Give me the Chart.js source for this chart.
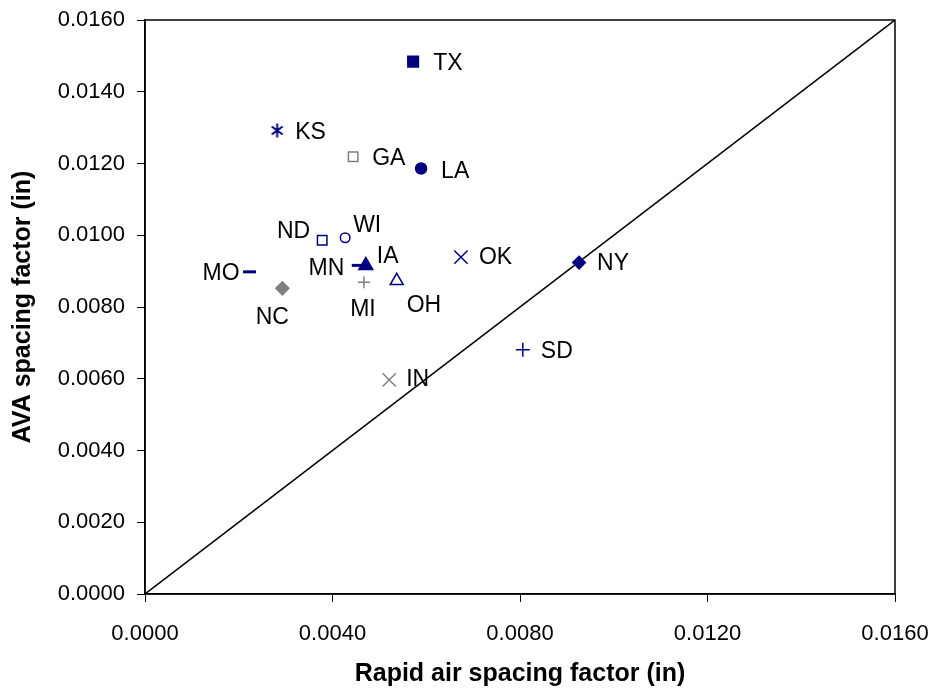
<!DOCTYPE html>
<html>
<head>
<meta charset="utf-8">
<title>AVA vs Rapid air spacing factor</title>
<script src="https://cdn.jsdelivr.net/npm/chart.js@4.4.1/dist/chart.umd.min.js"></script>
<style>
  html, body { margin: 0; padding: 0; background: #fff; }
  #wrap { width: 940px; height: 694px; }
</style>
</head>
<body>
<div id="wrap"><canvas id="spacingChart" width="940" height="694"></canvas></div>
<script>
// spacing factors per state (in)
const states = ['TX', 'KS', 'GA', 'LA', 'ND', 'WI', 'MO', 'MN', 'IA', 'MI', 'OH', 'NC', 'OK', 'NY', 'SD', 'IN'];
const rapidAir = [0.00572, 0.00282, 0.00444, 0.00589, 0.00378, 0.00427, 0.00223, 0.00455,
                  0.00471, 0.00467, 0.00537, 0.00293, 0.00674, 0.00926, 0.00806, 0.00521];
const avaSpacing = [0.01484, 0.01292, 0.01219, 0.01186, 0.00986, 0.00993, 0.00898, 0.00916,
                    0.00916, 0.00869, 0.00873, 0.00852, 0.00939, 0.00924, 0.00681, 0.00597];

// line of equality
const equalityLine = [0, 0.016];

const xTicks = { min: 0, max: 0.016, step: 0.004 };
const yTicks = { min: 0, max: 0.016, step: 0.002 };

const NAVY = '#000080';
const GRAY = '#808080';
const FONT = "'Liberation Sans', Arial, sans-serif";

// star marker: vertical stroke plus an X
function makeStar(color) {
  const c = document.createElement('canvas');
  c.width = 15; c.height = 15;
  const g = c.getContext('2d');
  g.strokeStyle = color;
  g.lineWidth = 2;
  g.beginPath();
  g.moveTo(7.5, 0.5); g.lineTo(7.5, 14.5);
  g.moveTo(2, 3.5); g.lineTo(13, 11.5);
  g.moveTo(13, 3.5); g.lineTo(2, 11.5);
  g.stroke();
  return c;
}

// marker look for each state
const markers = {
  TX: { style: 'rect', r: 7.5, color: NAVY, fill: true },
  KS: { style: makeStar(NAVY), r: 7, color: NAVY, fill: true },
  GA: { style: 'rect', r: 6.7, color: GRAY, fill: false },
  LA: { style: 'circle', r: 5.5, color: NAVY, fill: true },
  ND: { style: 'rect', r: 6.7, color: NAVY, fill: false },
  WI: { style: 'circle', r: 4.8, color: NAVY, fill: false },
  MO: { style: 'line', r: 6.5, color: NAVY, fill: true, width: 3 },
  MN: { style: 'line', r: 6.5, color: NAVY, fill: true, width: 3 },
  IA: { style: 'triangle', r: 8, color: NAVY, fill: true },
  MI: { style: 'cross', r: 6, color: GRAY, fill: true },
  OH: { style: 'triangle', r: 7.5, color: NAVY, fill: false },
  NC: { style: 'rectRot', r: 6.5, color: GRAY, fill: true },
  OK: { style: 'crossRot', r: 9.4, color: NAVY, fill: true },
  NY: { style: 'rectRot', r: 6.3, color: NAVY, fill: true },
  SD: { style: 'cross', r: 7, color: NAVY, fill: true },
  IN: { style: 'crossRot', r: 9.4, color: GRAY, fill: true }
};

// where each state name sits relative to its marker: [dx, dy, align]
const labelPlacement = {
  TX: [20, 0, 'left'], KS: [18, 0, 'left'], GA: [19, 0, 'left'], LA: [20, 1, 'left'],
  ND: [-12, -10, 'right'], WI: [8, -14, 'left'], MO: [-10, 0, 'right'], MN: [-14, 1, 'right'],
  IA: [11, -11, 'left'], MI: [-1, 26, 'center'], OH: [10, 23, 'left'], NC: [-10, 27, 'center'],
  OK: [18, -1, 'left'], NY: [18, -1, 'left'], SD: [18, 0, 'left'], IN: [17, -2, 'left']
};

const stateSets = states.map((st, i) => {
  const m = markers[st];
  const open = !m.fill;
  return {
    label: st,
    data: [{ x: rapidAir[i], y: avaSpacing[i] }],
    pointStyle: m.style,
    pointRadius: m.r,
    pointHoverRadius: m.r,
    pointBorderColor: m.color,
    pointBackgroundColor: open ? '#fff' : m.color,
    pointBorderWidth: m.width || 1.5,
    showLine: false
  };
});

const lineSet = {
  type: 'line',
  label: 'equality',
  data: equalityLine.map(v => ({ x: v, y: v })),
  borderColor: '#000',
  borderWidth: 1.5,
  pointRadius: 0,
  fill: false,
  order: 1
};

// frame round the plot area
const plotFrame = {
  id: 'plotFrame',
  beforeDatasetsDraw(chart) {
    const { ctx, chartArea: a } = chart;
    ctx.save();
    ctx.strokeStyle = '#000';
    ctx.lineWidth = 1.5;
    ctx.strokeRect(a.left, a.top, a.right - a.left, a.bottom - a.top);
    ctx.restore();
  }
};

// state names beside the markers
const stateLabels = {
  id: 'stateLabels',
  afterDatasetsDraw(chart) {
    const ctx = chart.ctx;
    ctx.save();
    ctx.font = '23px ' + FONT;
    ctx.fillStyle = '#000';
    ctx.textBaseline = 'alphabetic';
    chart.data.datasets.forEach((ds, i) => {
      const place = labelPlacement[ds.label];
      if (!place) return;
      const pt = chart.getDatasetMeta(i).data[0];
      ctx.textAlign = place[2];
      ctx.fillText(ds.label, pt.x + place[0], pt.y + place[1] + 8.2);
    });
    ctx.restore();
  }
};

const tickFont = { family: FONT, size: 22 };
const titleFont = { family: FONT, size: 25, weight: 'bold' };

new Chart(document.getElementById('spacingChart'), {
  type: 'scatter',
  data: { datasets: [...stateSets, lineSet] },
  options: {
    responsive: false,
    animation: false,
    layout: { padding: { top: 20, right: 45, left: 0, bottom: 0 } },
    plugins: { legend: { display: false }, tooltip: { enabled: false } },
    scales: {
      x: {
        type: 'linear',
        min: xTicks.min,
        max: xTicks.max,
        afterFit: s => {
          s.height = 100;
          s.paddingLeft = 0;
          s.paddingRight = 0;
        },
        ticks: {
          stepSize: xTicks.step,
          maxRotation: 0,
          padding: 19,
          color: '#000',
          font: tickFont,
          callback: v => v.toFixed(4)
        },
        grid: { drawOnChartArea: false, drawTicks: true, tickLength: 8, color: '#000', lineWidth: 1 },
        border: { display: true, color: '#000', width: 1.5 },
        title: { display: true, text: 'Rapid air spacing factor (in)', color: '#000', font: titleFont, padding: { top: 0, bottom: 5 } }
      },
      y: {
        type: 'linear',
        min: yTicks.min,
        max: yTicks.max,
        afterFit: s => {
          s.width = 145;
          s.paddingTop = 0;
          s.paddingBottom = 0;
        },
        ticks: {
          stepSize: yTicks.step,
          padding: 12,
          color: '#000',
          font: tickFont,
          callback: v => v.toFixed(4)
        },
        grid: { drawOnChartArea: false, drawTicks: true, tickLength: 8, color: '#000', lineWidth: 1 },
        border: { display: true, color: '#000', width: 1.5 },
        title: { display: true, text: 'AVA spacing factor (in)', color: '#000', font: titleFont, padding: { top: 8, bottom: 0 } }
      }
    }
  },
  plugins: [plotFrame, stateLabels]
});
</script>
</body>
</html>
